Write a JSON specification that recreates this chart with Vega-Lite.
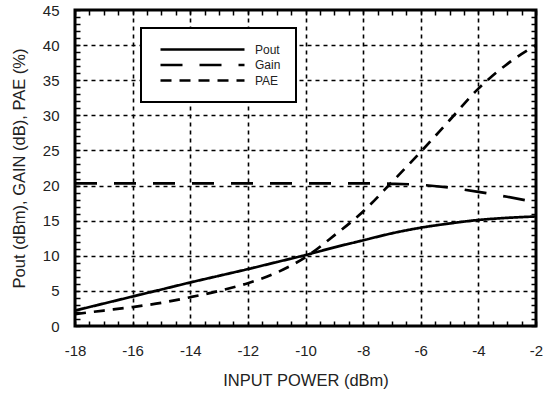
{
  "$schema": "https://vega.github.io/schema/vega-lite/v6.json",
  "width": 461,
  "height": 316,
  "autosize": {"type": "none"},
  "padding": {"left": 75, "top": 10, "right": 11, "bottom": 68},
  "background": "white",
  "config": {
    "view": {"stroke": "black", "strokeWidth": 3},
    "font": "Liberation Sans",
    "legend": {"strokeWidth": 2}
  },
  "data": {
    "values": [
      {"input": -18, "series": "Pout", "value": 2.2},
      {"input": -17, "series": "Pout", "value": 3.2},
      {"input": -16, "series": "Pout", "value": 4.2},
      {"input": -15, "series": "Pout", "value": 5.2},
      {"input": -14, "series": "Pout", "value": 6.2},
      {"input": -13, "series": "Pout", "value": 7.15},
      {"input": -12, "series": "Pout", "value": 8.1},
      {"input": -11, "series": "Pout", "value": 9.1},
      {"input": -10, "series": "Pout", "value": 10.1},
      {"input": -9, "series": "Pout", "value": 11.2},
      {"input": -8, "series": "Pout", "value": 12.2},
      {"input": -7, "series": "Pout", "value": 13.2},
      {"input": -6, "series": "Pout", "value": 14.0},
      {"input": -5, "series": "Pout", "value": 14.6},
      {"input": -4, "series": "Pout", "value": 15.1},
      {"input": -3, "series": "Pout", "value": 15.4},
      {"input": -2, "series": "Pout", "value": 15.6},
      {"input": -18, "series": "Gain", "value": 20.3},
      {"input": -17, "series": "Gain", "value": 20.3},
      {"input": -16, "series": "Gain", "value": 20.3},
      {"input": -15, "series": "Gain", "value": 20.3},
      {"input": -14, "series": "Gain", "value": 20.3},
      {"input": -13, "series": "Gain", "value": 20.3},
      {"input": -12, "series": "Gain", "value": 20.3},
      {"input": -11, "series": "Gain", "value": 20.3},
      {"input": -10, "series": "Gain", "value": 20.3},
      {"input": -9, "series": "Gain", "value": 20.3},
      {"input": -8, "series": "Gain", "value": 20.3},
      {"input": -7, "series": "Gain", "value": 20.25},
      {"input": -6, "series": "Gain", "value": 20.1},
      {"input": -5, "series": "Gain", "value": 19.7},
      {"input": -4, "series": "Gain", "value": 19.1},
      {"input": -3, "series": "Gain", "value": 18.4},
      {"input": -2, "series": "Gain", "value": 17.6},
      {"input": -18, "series": "PAE", "value": 1.7},
      {"input": -17, "series": "PAE", "value": 2.2},
      {"input": -16, "series": "PAE", "value": 2.7},
      {"input": -15, "series": "PAE", "value": 3.3},
      {"input": -14, "series": "PAE", "value": 4.1},
      {"input": -13, "series": "PAE", "value": 5.0},
      {"input": -12, "series": "PAE", "value": 6.1},
      {"input": -11, "series": "PAE", "value": 7.6},
      {"input": -10, "series": "PAE", "value": 9.8},
      {"input": -9, "series": "PAE", "value": 12.9},
      {"input": -8, "series": "PAE", "value": 16.3},
      {"input": -7, "series": "PAE", "value": 20.5},
      {"input": -6, "series": "PAE", "value": 24.8},
      {"input": -5, "series": "PAE", "value": 29.3},
      {"input": -4, "series": "PAE", "value": 33.8},
      {"input": -3, "series": "PAE", "value": 37.3},
      {"input": -2, "series": "PAE", "value": 40.0}
    ]
  },
  "layer": [
    {
      "mark": {"type": "line", "strokeWidth": 2.7, "interpolate": "monotone", "color": "black"},
      "encoding": {
        "x": {
          "field": "input",
          "type": "quantitative",
          "scale": {"domain": [-18, -2], "nice": false, "zero": false},
          "axis": {
            "orient": "bottom",
            "values": [-18, -17.5, -17, -16.5, -16, -15.5, -15, -14.5, -14, -13.5, -13, -12.5, -12, -11.5, -11, -10.5, -10, -9.5, -9, -8.5, -8, -7.5, -7, -6.5, -6, -5.5, -5, -4.5, -4, -3.5, -3, -2.5, -2],
            "labelExpr": "datum.value % 2 === 0 ? '' + datum.value : ''",
            "labelFlush": false,
            "labelOverlap": false,
            "grid": true,
            "gridOpacity": {"condition": {"test": "datum.value % 2 === 0 && datum.value > -18 && datum.value < -2", "value": 1}, "value": 0},
            "gridDash": [4, 4],
            "gridColor": "black",
            "gridWidth": 1.6,
            "domain": false,
            "ticks": true,
            "tickSize": -5,
            "tickColor": "black",
            "tickWidth": 1.5,
            "labelPadding": 22,
            "labelFontSize": 15,
            "labelColor": "#222",
            "title": "INPUT POWER (dBm)",
            "titleFontSize": 16.5,
            "titleFontWeight": "normal",
            "titleColor": "#222",
            "titlePadding": 14
          }
        },
        "y": {
          "field": "value",
          "type": "quantitative",
          "scale": {"domain": [0, 45], "nice": false},
          "axis": {
            "orient": "left",
            "values": [0,1,2,3,4,5,6,7,8,9,10,11,12,13,14,15,16,17,18,19,20,21,22,23,24,25,26,27,28,29,30,31,32,33,34,35,36,37,38,39,40,41,42,43,44,45],
            "labelExpr": "datum.value % 5 === 0 ? '' + datum.value : ''",
            "labelFlush": false,
            "labelOverlap": false,
            "grid": true,
            "gridOpacity": {"condition": {"test": "datum.value % 5 === 0 && datum.value > 0 && datum.value < 45", "value": 1}, "value": 0},
            "gridDash": [4, 4],
            "gridColor": "black",
            "gridWidth": 1.6,
            "domain": false,
            "ticks": true,
            "tickSize": -5,
            "tickColor": "black",
            "tickWidth": 1.5,
            "labelPadding": 21,
            "labelFontSize": 15,
            "labelColor": "#222",
            "title": "Pout (dBm), GAIN (dB), PAE (%)",
            "titleFontSize": 16.5,
            "titleFontWeight": "normal",
            "titleColor": "#222",
            "titlePadding": 15
          }
        },
        "strokeDash": {
          "field": "series",
          "type": "nominal",
          "scale": {"domain": ["Pout", "Gain", "PAE"], "range": [[1, 0], [22, 17], [11, 8]]},
          "legend": {
            "orient": "none",
            "legendX": 66,
            "legendY": 18,
            "title": null,
            "symbolType": "M-0.4,0H16.4",
            "symbolSize": 100,
            "symbolStrokeWidth": 2.7,
            "symbolStrokeColor": "black",
            "symbolFillColor": "transparent",
            "labelOffset": 86,
            "labelFontSize": 12,
            "labelFont": "Liberation Sans",
            "labelColor": "#222",
            "padding": 15,
            "rowPadding": 2.5,
            "strokeColor": "black",
            "fillColor": "white"
          }
        }
      }
    },
    {
      "mark": {"type": "point", "opacity": 0},
      "encoding": {
        "x": {
          "field": "input",
          "type": "quantitative",
          "axis": {
            "orient": "top",
            "offset": -5,
            "values": [-18, -17.5, -17, -16.5, -16, -15.5, -15, -14.5, -14, -13.5, -13, -12.5, -12, -11.5, -11, -10.5, -10, -9.5, -9, -8.5, -8, -7.5, -7, -6.5, -6, -5.5, -5, -4.5, -4, -3.5, -3, -2.5, -2],
            "labels": false,
            "grid": false,
            "domain": false,
            "ticks": true,
            "tickSize": 5,
            "tickColor": "black",
            "tickWidth": 1.5,
            "title": null
          }
        },
        "y": {
          "field": "value",
          "type": "quantitative",
          "axis": {
            "orient": "right",
            "offset": -5,
            "values": [0,1,2,3,4,5,6,7,8,9,10,11,12,13,14,15,16,17,18,19,20,21,22,23,24,25,26,27,28,29,30,31,32,33,34,35,36,37,38,39,40,41,42,43,44,45],
            "labels": false,
            "grid": false,
            "domain": false,
            "ticks": true,
            "tickSize": 5,
            "tickColor": "black",
            "tickWidth": 1.5,
            "title": null
          }
        }
      }
    }
  ],
  "resolve": {"axis": {"x": "independent", "y": "independent"}}
}
